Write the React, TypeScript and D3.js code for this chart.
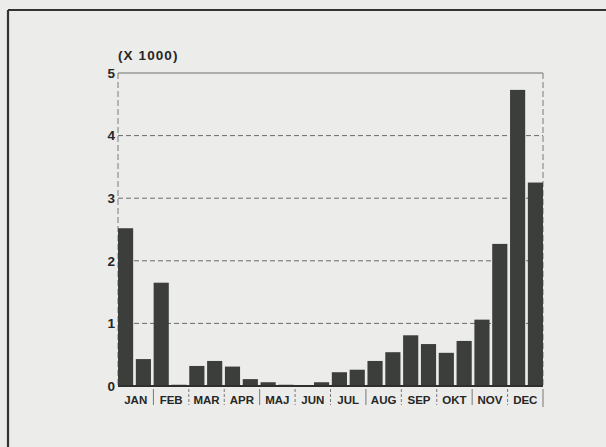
import React from "react";
import * as d3 from "d3";

const months = ["JAN", "FEB", "MAR", "APR", "MAJ", "JUN", "JUL", "AUG", "SEP", "OKT", "NOV", "DEC"];
const firstHalf = [2.52, 1.65, 0.32, 0.31, 0.06, 0.01, 0.22, 0.40, 0.81, 0.53, 1.06, 4.73];
const secondHalf = [0.43, 0.02, 0.40, 0.11, 0.02, 0.06, 0.26, 0.54, 0.67, 0.72, 2.27, 3.25];
const yTicks = [0, 1, 2, 3, 4, 5];
const unitLabel = "(X 1000)";

const W = 606;
const H = 447;
const left = 118;
const right = 543;
const top = 73;
const bottom = 386;

export default function App() {
  const bars = months.flatMap((m, i) => [
    { key: `${m}-1`, month: m, v: firstHalf[i] },
    { key: `${m}-2`, month: m, v: secondHalf[i] },
  ]);
  const x = d3.scaleBand<string>().domain(bars.map((b) => b.key)).range([left, right]).paddingInner(0.15).paddingOuter(0);
  const xm = d3.scaleBand<string>().domain(months).range([left, right]).padding(0);
  const y = d3.scaleLinear().domain([0, 5]).range([bottom, top]);
  const font = "'Liberation Sans', Arial, sans-serif";
  const ink = "#262726";

  return (
    <svg width={W} height={H} style={{ position: "absolute", left: 0, top: 0 }} fontFamily={font}>
      <rect x={0} y={0} width={W} height={H} fill="#ececea" />
      <line x1={8} y1={10} x2={W} y2={10} stroke="#333" strokeWidth={2.2} />
      <line x1={8} y1={10} x2={8} y2={H} stroke="#333" strokeWidth={2.2} />

      {yTicks.filter((t) => t > 0 && t < 5).map((t) => (
        <line key={t} x1={left} x2={right} y1={y(t)} y2={y(t)} stroke="#6a6a6a" strokeWidth={1} strokeDasharray="5,3" />
      ))}
      <line x1={left} x2={right} y1={y(5)} y2={y(5)} stroke="#6e6e6e" strokeWidth={1.2} />
      <line x1={left} x2={left} y1={y(5)} y2={bottom} stroke="#7a7a7a" strokeWidth={1} strokeDasharray="6,3" />
      <line x1={right} x2={right} y1={y(5)} y2={bottom} stroke="#7a7a7a" strokeWidth={1} strokeDasharray="6,3" />

      {bars.map((b) => (
        <rect key={b.key} x={x(b.key)} y={y(b.v)} width={x.bandwidth()} height={bottom - y(b.v)} fill="#3b3e3b" />
      ))}
      <line x1={left} x2={right} y1={bottom} y2={bottom} stroke="#2e302e" strokeWidth={2} />

      {yTicks.map((t) => (
        <text key={t} x={115} y={y(t)} dy="0.36em" textAnchor="end" fontSize={13.5} fontWeight="bold" fill={ink}>
          {t}
        </text>
      ))}
      <text x={118} y={60} fontSize={13.5} fontWeight="bold" fill={ink} letterSpacing={1.1}>
        {unitLabel}
      </text>

      {months.map((m, i) => (
        <g key={m}>
          {i > 0 && (
            <line x1={xm(m)} x2={xm(m)} y1={389} y2={405} stroke="#777" strokeWidth={1} strokeDasharray={i % 3 === 1 ? "none" : "3,2"} />
          )}
          <text x={(xm(m) as number) + xm.bandwidth() / 2} y={404} textAnchor="middle" fontSize={11.5} fontWeight="bold" fill={ink}>
            {m}
          </text>
        </g>
      ))}
      <line x1={right} x2={right} y1={389} y2={407} stroke="#777" strokeWidth={1} />
    </svg>
  );
}
